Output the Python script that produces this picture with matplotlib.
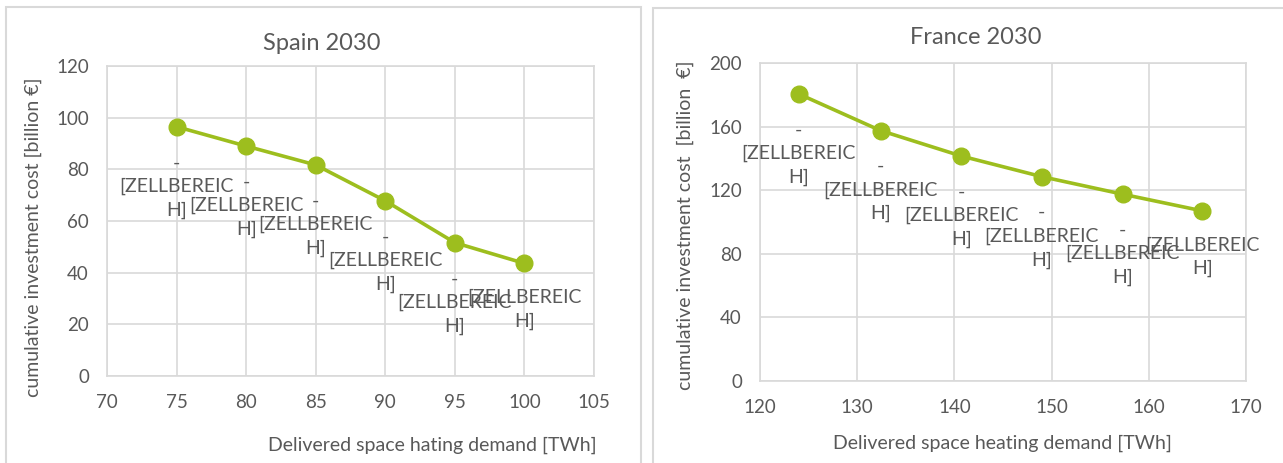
import matplotlib
matplotlib.use("Agg")
import matplotlib.pyplot as plt
from matplotlib.patches import Rectangle

plt.rcParams['font.family'] = ['Lato', 'DejaVu Sans']

# Spain 2030
spain_demand = [75, 80, 85, 90, 95, 100]
spain_cost = [96.5, 89.0, 81.7, 67.8, 51.6, 43.6]
spain_labels = ["-\n[ZELLBEREIC\nH]"] * 5 + ["[ZELLBEREIC\nH]"]

# France 2030
france_demand = [124.0, 132.4, 140.7, 149.0, 157.3, 165.5]
france_cost = [180.5, 157.5, 141.5, 128.5, 117.5, 107.0]
france_labels = ["-\n[ZELLBEREIC\nH]"] * 5 + ["[ZELLBEREIC\nH]"]

LINE_COLOR = "#9DBE1E"
TEXT_COLOR = "#595959"
GRID_COLOR = "#D9D9D9"

W, H = 1283, 463
fig = plt.figure(figsize=(W / 100, H / 100), dpi=100)
fig.patch.set_facecolor("white")

# chart-area frames
fig.patches.append(Rectangle((6 / W, -0.05), (641 - 6) / W, 1.05 - 7 / H,
                             transform=fig.transFigure, fill=False,
                             edgecolor=GRID_COLOR, linewidth=1.5))
fig.patches.append(Rectangle((653 / W, -0.05), 0.5, 1.05 - 8 / H,
                             transform=fig.transFigure, fill=False,
                             edgecolor=GRID_COLOR, linewidth=1.5))


def style_axes(ax, xlim, xticks, ylim, yticks):
    ax.set_xlim(*xlim)
    ax.set_ylim(*ylim)
    ax.set_xticks(xticks)
    ax.set_yticks(yticks)
    ax.grid(True, color=GRID_COLOR, linewidth=1.2)
    ax.set_axisbelow(True)
    for s in ax.spines.values():
        s.set_color(GRID_COLOR)
        s.set_linewidth(1.2)
    ax.tick_params(length=0, labelsize=13.5, labelcolor=TEXT_COLOR, pad=13)


def draw_series(ax, xs, ys, labels):
    ax.plot(xs, ys, color=LINE_COLOR, linewidth=2.6, marker="o",
            markersize=12, zorder=3)
    for x, y, lab in zip(xs, ys, labels):
        dy = -43 if lab.startswith("-") else -33
        ax.annotate(lab, (x, y), xytext=(0, dy),
                    textcoords="offset points", ha="center", va="center",
                    multialignment="center", fontsize=14,
                    color=TEXT_COLOR, linespacing=1.45, zorder=4)


ax1 = fig.add_axes([107 / W, 1 - 376 / H, (594 - 107) / W, (376 - 66) / H])
style_axes(ax1, (70, 105), range(70, 106, 5), (0, 120), range(0, 121, 20))
draw_series(ax1, spain_demand, spain_cost, spain_labels)

ax2 = fig.add_axes([760 / W, 1 - 381 / H, (1246 - 760) / W, (381 - 63) / H])
style_axes(ax2, (120, 170), range(120, 171, 10), (0, 200), range(0, 201, 40))
draw_series(ax2, france_demand, france_cost, france_labels)

fig.text(322 / W, 1 - 43 / H, "Spain 2030", ha="center", va="center",
         fontsize=17, color=TEXT_COLOR)
fig.text(976 / W, 1 - 38 / H, "France 2030", ha="center", va="center",
         fontsize=17, color=TEXT_COLOR)

fig.text(33 / W, 1 - 237 / H, "cumulative investment cost [billion €]",
         rotation=90, ha="center", va="center", fontsize=14,
         color=TEXT_COLOR)
fig.text(685 / W, 1 - 225 / H, "cumulative investment cost  [billion  €]",
         rotation=90, ha="center", va="center", fontsize=14,
         color=TEXT_COLOR)

fig.text(432 / W, 1 - 445 / H, "Delivered space hating demand [TWh]",
         ha="center", va="center", fontsize=14, color=TEXT_COLOR)
fig.text(1002 / W, 1 - 443 / H, "Delivered space heating demand [TWh]",
         ha="center", va="center", fontsize=14, color=TEXT_COLOR)

fig.savefig("out.png", dpi=100)
